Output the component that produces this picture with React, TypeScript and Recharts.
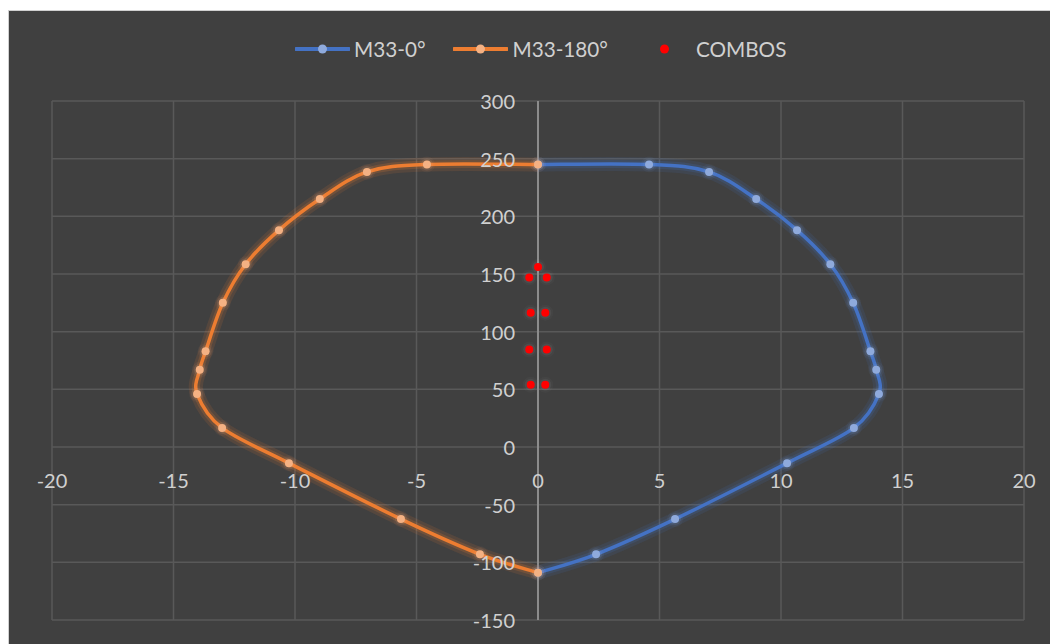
import React from 'react';
import { ScatterChart, Scatter, XAxis, YAxis, CartesianGrid, ReferenceLine, Legend } from 'recharts';

const m33_0_x = [0, 4.57, 7.04, 8.98, 10.66, 12.03, 12.97, 13.68, 13.92, 14.03, 13.0, 10.25, 5.64, 2.39, 0];
const m33_0_y = [245, 245, 238.5, 215, 188, 158.5, 125, 83, 67, 46, 16.5, -14, -62.5, -93, -109];
const m33_180_x = [0, -4.57, -7.04, -8.98, -10.66, -12.03, -12.97, -13.68, -13.92, -14.03, -13.0, -10.25, -5.64, -2.39, 0];
const m33_180_y = [245, 245, 238.5, 215, 188, 158.5, 125, 83, 67, 46, 16.5, -14, -62.5, -93, -109];
const combos_x = [0, -0.36, 0.36, -0.3, 0.3, -0.36, 0.36, -0.3, 0.3];
const combos_y = [156, 147, 147, 116.5, 116.5, 84.5, 84.5, 54, 54];

const xTicks = [-20, -15, -10, -5, 0, 5, 10, 15, 20];
const yTicks = [-150, -100, -50, 0, 50, 100, 150, 200, 250, 300];

const toPts = (xs: number[], ys: number[]) => xs.map((x, i) => ({ x, y: ys[i] }));
const blueData = toPts(m33_0_x, m33_0_y);
const orangeData = toPts(m33_180_x, m33_180_y);
const comboData = toPts(combos_x, combos_y);

const W = 1050;
const H = 634;
const X_AXIS_H = 25;
const Y_AXIS_W = 43;
const MARGIN = { top: 90, right: 35, bottom: 0, left: 0 };
const PLOT_LEFT = MARGIN.left + Y_AXIS_W;
const PLOT_W = W - PLOT_LEFT - MARGIN.right;
const PLOT_H = H - MARGIN.top - MARGIN.bottom - X_AXIS_H;
const X_MIN = -20, X_MAX = 20, Y_MIN = -150, Y_MAX = 300;
const ZERO_X = PLOT_LEFT + (PLOT_W * (0 - X_MIN)) / (X_MAX - X_MIN);
const ZERO_Y = MARGIN.top + (PLOT_H * Y_MAX) / (Y_MAX - Y_MIN);

const BLUE = '#4472C4';
const BLUE_DOT = '#8FAADC';
const ORANGE = '#ED7D31';
const ORANGE_DOT = '#F4B183';
const RED = '#FF0000';
const TEXT = '#D0D0D0';
const FONT = 'Lato, "Open Sans", sans-serif';

function catmullRom(context: any) {
  let pts: number[][] = [];
  return {
    areaStart() {},
    areaEnd() {},
    lineStart() { pts = []; },
    point(x: number, y: number) { pts.push([+x, +y]); },
    lineEnd() {
      const n = pts.length;
      if (!n) return;
      context.moveTo(pts[0][0], pts[0][1]);
      for (let i = 0; i < n - 1; i++) {
        const p0 = pts[Math.max(i - 1, 0)];
        const p1 = pts[i];
        const p2 = pts[i + 1];
        const p3 = pts[Math.min(i + 2, n - 1)];
        context.bezierCurveTo(
          p1[0] + (p2[0] - p0[0]) / 6, p1[1] + (p2[1] - p0[1]) / 6,
          p2[0] - (p3[0] - p1[0]) / 6, p2[1] - (p3[1] - p1[1]) / 6,
          p2[0], p2[1]
        );
      }
    },
  };
}

const XTick = (props: any) => {
  const { x, payload } = props;
  return (
    <text x={x} y={ZERO_Y + 33} textAnchor="middle" dominantBaseline="central" fill={TEXT} fontSize={20} fontFamily={FONT}>
      {payload.value}
    </text>
  );
};

const YTick = (props: any) => {
  const { y, payload } = props;
  return (
    <text x={ZERO_X - 23} y={y} textAnchor="end" dominantBaseline="central" fill={TEXT} fontSize={20} fontFamily={FONT}>
      {payload.value}
    </text>
  );
};

const dotShape = (fill: string, glow: string, op: number) => (props: any) => {
  const { cx, cy } = props;
  return (
    <g>
      <circle cx={cx} cy={cy} r={8} fill={glow} fillOpacity={op * 0.5} />
      <circle cx={cx} cy={cy} r={6} fill={glow} fillOpacity={op} />
      <circle cx={cx} cy={cy} r={4} fill={fill} />
    </g>
  );
};

const emptyShape = () => <g />;

const legendItems = [
  { name: 'M33-0°', line: BLUE, dot: BLUE_DOT, showLine: true, width: 55, gap: 28 },
  { name: 'M33-180°', line: ORANGE, dot: ORANGE_DOT, showLine: true, width: 55, gap: 29 },
  { name: 'COMBOS', line: RED, dot: RED, showLine: false, width: 55, gap: 0 },
];

const LegendContent = () => (
  <div style={{ display: 'flex', alignItems: 'center', fontFamily: FONT, fontSize: 20.7, color: TEXT, height: 24 }}>
    {legendItems.map((it) => (
      <div key={it.name} style={{ display: 'flex', alignItems: 'center', marginRight: it.gap }}>
        <svg width={it.width} height={14} style={{ marginRight: 4 }}>
          {it.showLine && <line x1={1} y1={7} x2={it.width - 1} y2={7} stroke={it.line} strokeWidth={4} strokeLinecap="round" />}
          <circle cx={it.width / 2} cy={7} r={4.5} fill={it.dot} />
        </svg>
        <span>{it.name}</span>
      </div>
    ))}
  </div>
);

export default function App() {
  return (
    <div style={{ marginTop: 2, width: W, height: H, background: '#404040', border: '1px solid #D0D0D0', position: 'relative' }}>
      <ScatterChart width={W} height={H} margin={MARGIN}>
        <CartesianGrid stroke="#595959" strokeWidth={1.5} />
        <XAxis
          type="number"
          dataKey="x"
          domain={[X_MIN, X_MAX]}
          ticks={xTicks}
          axisLine={false}
          tickLine={false}
          height={X_AXIS_H}
          tick={XTick}
          interval={0}
        />
        <YAxis
          type="number"
          dataKey="y"
          domain={[Y_MIN, Y_MAX]}
          ticks={yTicks}
          axisLine={false}
          tickLine={false}
          width={Y_AXIS_W}
          tick={YTick}
          interval={0}
        />
        <ReferenceLine x={0} stroke="#8C8C8C" strokeWidth={2} />
        <Legend
          verticalAlign="middle"
          align="center"
          layout="horizontal"
          content={<LegendContent />}
          wrapperStyle={{ position: 'absolute', top: 26, left: 286, width: 'auto' }}
        />
        <Scatter name="glowB" data={blueData} legendType="none" isAnimationActive={false}
          line={{ stroke: BLUE, strokeWidth: 14, strokeOpacity: 0.12 }} lineType="joint"
          lineJointType={catmullRom as any} shape={emptyShape} />
        <Scatter name="glowO" data={orangeData} legendType="none" isAnimationActive={false}
          line={{ stroke: ORANGE, strokeWidth: 14, strokeOpacity: 0.12 }} lineType="joint"
          lineJointType={catmullRom as any} shape={emptyShape} />
        <Scatter name="glowB2" data={blueData} legendType="none" isAnimationActive={false}
          line={{ stroke: BLUE, strokeWidth: 8, strokeOpacity: 0.18 }} lineType="joint"
          lineJointType={catmullRom as any} shape={emptyShape} />
        <Scatter name="glowO2" data={orangeData} legendType="none" isAnimationActive={false}
          line={{ stroke: ORANGE, strokeWidth: 8, strokeOpacity: 0.18 }} lineType="joint"
          lineJointType={catmullRom as any} shape={emptyShape} />
        <Scatter name="M33-0°" data={blueData} isAnimationActive={false} fill={BLUE_DOT}
          line={{ stroke: BLUE, strokeWidth: 3.5 }} lineType="joint"
          lineJointType={catmullRom as any} shape={dotShape(BLUE_DOT, BLUE_DOT, 0.12)} />
        <Scatter name="M33-180°" data={orangeData} isAnimationActive={false} fill={ORANGE_DOT}
          line={{ stroke: ORANGE, strokeWidth: 3.5 }} lineType="joint"
          lineJointType={catmullRom as any} shape={dotShape(ORANGE_DOT, ORANGE_DOT, 0.12)} />
        <Scatter name="COMBOS" data={comboData} isAnimationActive={false} fill={RED}
          shape={dotShape(RED, '#FFFFFF', 0.05)} />
      </ScatterChart>
    </div>
  );
}
